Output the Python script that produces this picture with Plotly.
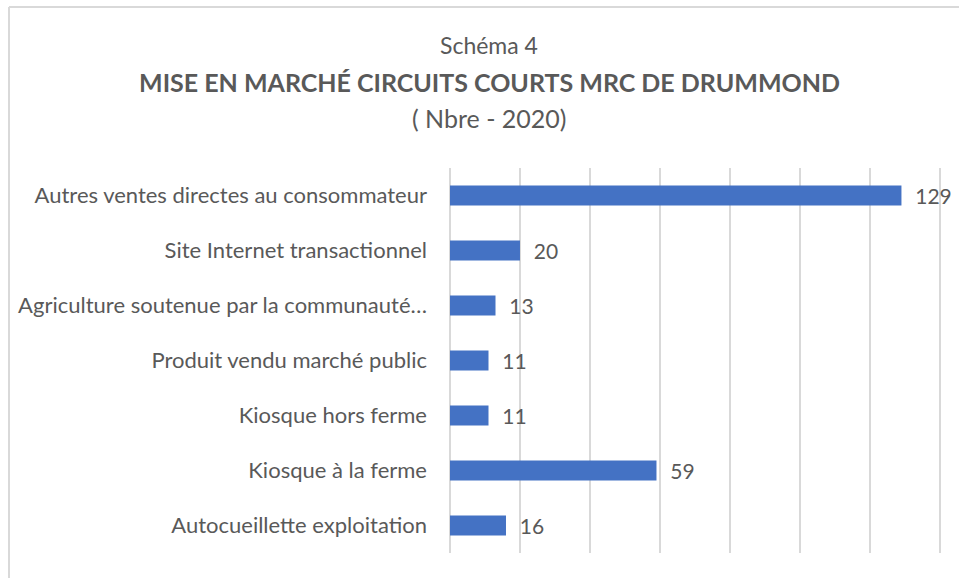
import plotly.graph_objects as go

categories = [
    "Autres ventes directes au consommateur",
    "Site Internet transactionnel",
    "Agriculture soutenue par la communauté…",
    "Produit vendu marché public",
    "Kiosque hors ferme",
    "Kiosque à la ferme",
    "Autocueillette exploitation",
]
values = [129, 20, 13, 11, 11, 59, 16]

W, H = 959, 578
ML, MR, MT, MB = 450, 18, 168, 25
PW, PH = W - ML - MR, H - MT - MB

def px(x):
    return (x - ML) / PW

def py(y):
    return (H - MB - y) / PH

TXT = "#595959"
FONT = "Lato"

fig = go.Figure(go.Bar(
    x=values, y=categories, orientation="h",
    marker=dict(color="#4472C4", line=dict(width=0)),
    text=["  " + str(v) for v in values],
    textposition="outside", cliponaxis=False, constraintext="none",
    textfont=dict(family=FONT, size=21, color=TXT),
    hoverinfo="skip",
))

fig.update_layout(
    width=W, height=H,
    margin=dict(l=ML, r=MR, t=MT, b=MB),
    paper_bgcolor="white", plot_bgcolor="white",
    bargap=0.64, showlegend=False,
    font=dict(family=FONT, color=TXT),
    xaxis=dict(range=[0, 140.3], dtick=20, showgrid=True, gridcolor="#d9d9d9",
               gridwidth=1.5, showticklabels=False, zeroline=True, zerolinecolor="#d9d9d9",
               zerolinewidth=1.5, showline=False, fixedrange=True),
    yaxis=dict(autorange="reversed", showgrid=False, zeroline=False, showline=False,
               ticks="", ticklabelstandoff=22, fixedrange=True,
               tickfont=dict(family=FONT, size=22, color=TXT)),
    annotations=[
        dict(text="Schéma 4", xref="paper", yref="paper", x=px(489), y=py(45),
             xanchor="center", yanchor="middle",
             showarrow=False, font=dict(family=FONT, size=23, color=TXT)),
        dict(text="<b>MISE EN MARCHÉ CIRCUITS COURTS MRC DE DRUMMOND</b>", xref="paper", yref="paper",
             x=px(489), y=py(82), xanchor="center", yanchor="middle",
             showarrow=False, font=dict(family=FONT, size=25, color=TXT)),
        dict(text="( Nbre - 2020)", xref="paper", yref="paper", x=px(489), y=py(118),
             xanchor="center", yanchor="middle",
             showarrow=False, font=dict(family=FONT, size=25, color=TXT)),
    ],
    shapes=[
        dict(type="line", xref="paper", yref="paper", x0=px(9), x1=px(9), y0=py(7), y1=py(600),
             line=dict(color="#d9d9d9", width=2)),
        dict(type="line", xref="paper", yref="paper", x0=px(9), x1=px(970), y0=py(7), y1=py(7),
             line=dict(color="#d9d9d9", width=2)),
    ],
)

fig.write_html("out.html", config={"displayModeBar": False},
               post_script="document.body.style.margin='0';document.body.style.overflow='hidden';")
